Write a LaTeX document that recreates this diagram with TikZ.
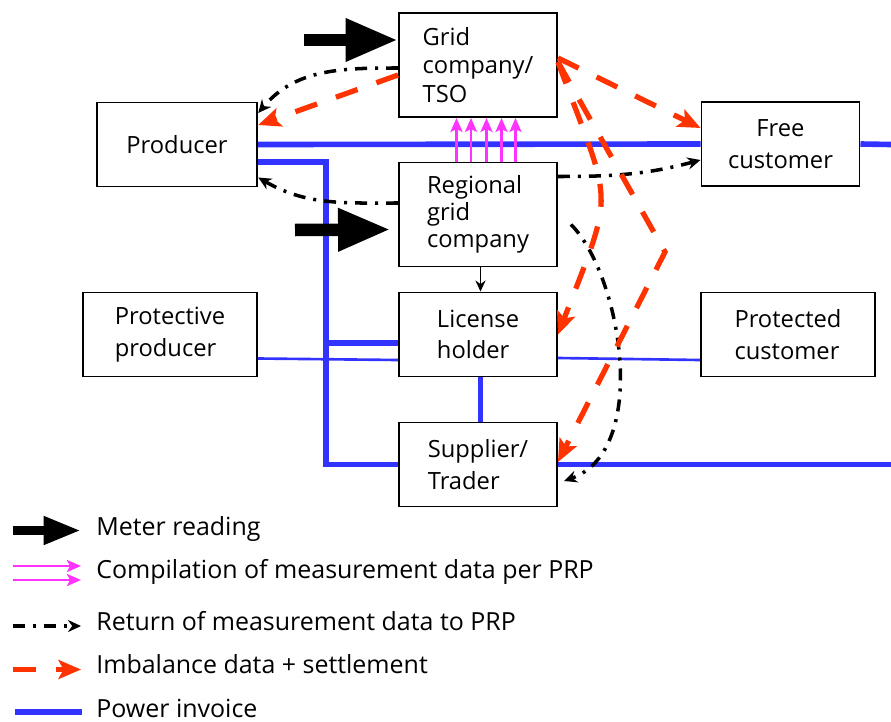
\documentclass[tikz,border=0pt]{standalone}
\usepackage{fontspec}
\setmainfont{Open Sans}
\usetikzlibrary{arrows.meta,positioning,calc,backgrounds}

\definecolor{invoiceblue}{RGB}{51,51,255}
\definecolor{settlered}{RGB}{255,51,0}
\definecolor{prpmagenta}{RGB}{255,51,255}

\begin{document}
\begin{tikzpicture}[font=\fontsize{13.5}{18}\selectfont]
  \useasboundingbox (0,0) rectangle (17.82,14.42);
  \tikzstyle{box}=[draw, line width=1.1pt, fill=white, inner sep=0pt, minimum width=3.16cm, minimum height=1.68cm, align=left]
  \tikzstyle{tall}=[minimum height=2.08cm, font=\fontsize{13.5}{16}\selectfont]
  \tikzstyle{wide}=[minimum width=3.48cm]
  \tikzstyle{invoice}=[invoiceblue, line width=3.2pt]
  \tikzstyle{meter}=[line width=0.25cm, -{Triangle[length=1.05cm,width=0.8cm]}]
  \tikzstyle{compile}=[prpmagenta, line width=1.5pt, -{Stealth[length=0.28cm,width=0.24cm,inset=0.06cm]}]
  \tikzstyle{returndata}=[line width=2pt, dash pattern=on 0.24cm off 0.16cm on 0.06cm off 0.16cm, -{Stealth[length=0.26cm,width=0.24cm]}]
  \tikzstyle{imbalance}=[settlered, line width=3pt, dash pattern=on 0.46cm off 0.4cm, -{Stealth[length=0.45cm,width=0.38cm,inset=0.1cm]}]
  \tikzstyle{key}=[anchor=base west, inner sep=0pt, font=\fontsize{14.2}{17}\selectfont]

  % Actores
  \node[box, tall] (grid) at (9.56,13.12) {Grid\\company/\\TSO};
  \node[box, tall, font=\fontsize{13.5}{15.2}\selectfont] (reg) at (9.56,10.13) {Regional\\grid\\company};
  \node[box, minimum width=3.21cm] (prod) at (3.54,11.53) {Producer};
  \node[box, align=center] (free) at (15.61,11.54) {Free\\customer};
  \node[box, wide] (pprod) at (3.40,7.73) {Protective\\producer};
  \node[box] (lic) at (9.56,7.73) {License\\holder};
  \node[box, wide] (pcust) at (15.76,7.73) {Protected\\customer};
  \node[box] (supp) at (9.56,5.13) {Supplier/\\Trader};

  \coordinate (rimtop) at (17.82,11.53);
  \coordinate (rimlow) at (17.82,5.13);
  \coordinate (bus) at (6.52,7.56);
  \coordinate (kink) at (13.3,9.38);
  \coordinate (tsoread) at (6.07,13.62);
  \coordinate (regread) at (5.9,9.82);

  % Facturas de energia
  \begin{scope}[on background layer]
    \draw[invoice] (prod.east) -- (free.west);
    \draw[invoice] (free.east) -- (rimtop);
    \draw[invoice] ([yshift=-0.35cm]prod.east) -| (bus) |- (supp.west);
    \draw[invoice, line width=3.8pt] (bus) -- (bus -| lic.west);
    \draw[invoice, line width=1.5pt] ([yshift=-0.48cm]pprod.east) -- ([yshift=-0.51cm]lic.west);
    \draw[invoice, line width=1.5pt] ([yshift=-0.47cm]lic.east) -- ([yshift=-0.51cm]pcust.west);
    \draw[invoice, line width=3.4pt] ([xshift=0.05cm]lic.south) -- ([xshift=0.05cm]supp.north);
    \draw[invoice, line width=2.6pt] (supp.east) -- (rimlow);
  \end{scope}

  % Lectura de contadores
  \draw[meter] (tsoread) -- ([yshift=0.5cm]grid.west);
  \draw[meter] (regread) -- ([xshift=-0.15cm,yshift=-0.3cm]reg.west);

  % Datos por PRP
  \foreach \dx in {-0.43,-0.14,0.17,0.47,0.75}
    \draw[compile] ([xshift=\dx cm]reg.north) -- ([xshift=\dx cm]grid.south);
  \draw[line width=1pt, -{Stealth[length=0.22cm,width=0.2cm]}] ([xshift=0.05cm]reg.south) -- ([xshift=0.05cm]lic.north);

  % Retorno de datos
  \draw[returndata] ([yshift=-0.06cm]grid.west) to[out=180,in=50] ([yshift=0.63cm]prod.east);
  \draw[returndata] ([yshift=0.23cm]reg.west) to[out=180,in=-30] ([yshift=-0.66cm]prod.east);
  \draw[returndata] ([yshift=0.76cm]reg.east) to[out=0,in=195] ([yshift=-0.32cm]free.west);
  \draw[returndata] ([xshift=0.26cm,yshift=-0.2cm]reg.east) .. controls +(1.0,-1.0) and +(1.74,0.62) .. ([xshift=0.12cm,yshift=-0.33cm]supp.east);

  % Desbalance y liquidacion
  \draw[imbalance] ([yshift=-0.2cm]grid.west) -- ([yshift=0.39cm]prod.east);
  \draw[imbalance] ([yshift=0.14cm]grid.east) -- ([yshift=0.32cm]free.west);
  \draw[imbalance] ([yshift=0.06cm]grid.east) .. controls +(1.1,-2.98) and +(1.16,3.0) .. (lic.east);
  \draw[imbalance] ([yshift=0.06cm]grid.east) -- (kink) -- ([yshift=0.05cm]supp.east);

  % Leyenda
  \coordinate (m0) at (0.25,3.81); \coordinate (m1) at (1.62,3.81);
  \coordinate (c0) at (0.25,3.10); \coordinate (c1) at (1.62,3.10);
  \coordinate (c2) at (0.25,2.82); \coordinate (c3) at (1.62,2.82);
  \coordinate (r0) at (0.25,1.90); \coordinate (r1) at (1.62,1.90);
  \coordinate (i0) at (0.25,1.03); \coordinate (i1) at (1.62,1.03);
  \coordinate (p0) at (0.30,0.18); \coordinate (p1) at (1.63,0.18);

  \draw[meter, line width=0.18cm, -{Triangle[length=0.75cm,width=0.53cm]}] (m0) -- (m1);
  \draw[compile] (c0) -- (c1);
  \draw[compile] (c2) -- (c3);
  \draw[returndata] (r0) -- (r1);
  \draw[imbalance] (i0) -- (i1);
  \draw[invoice] (p0) -- (p1);

  \node[key] (kmeter) at (1.92,3.72) {Meter reading};
  \node[key] (kcompile) at (1.92,2.854) {Compilation of measurement data per PRP};
  \node[key] (kreturn) at (1.92,1.82) {Return of measurement data to PRP};
  \node[key] (kimb) at (1.92,0.96) {Imbalance data + settlement};
  \node[key] (kinv) at (1.92,0.08) {Power invoice};
\end{tikzpicture}
\end{document}
